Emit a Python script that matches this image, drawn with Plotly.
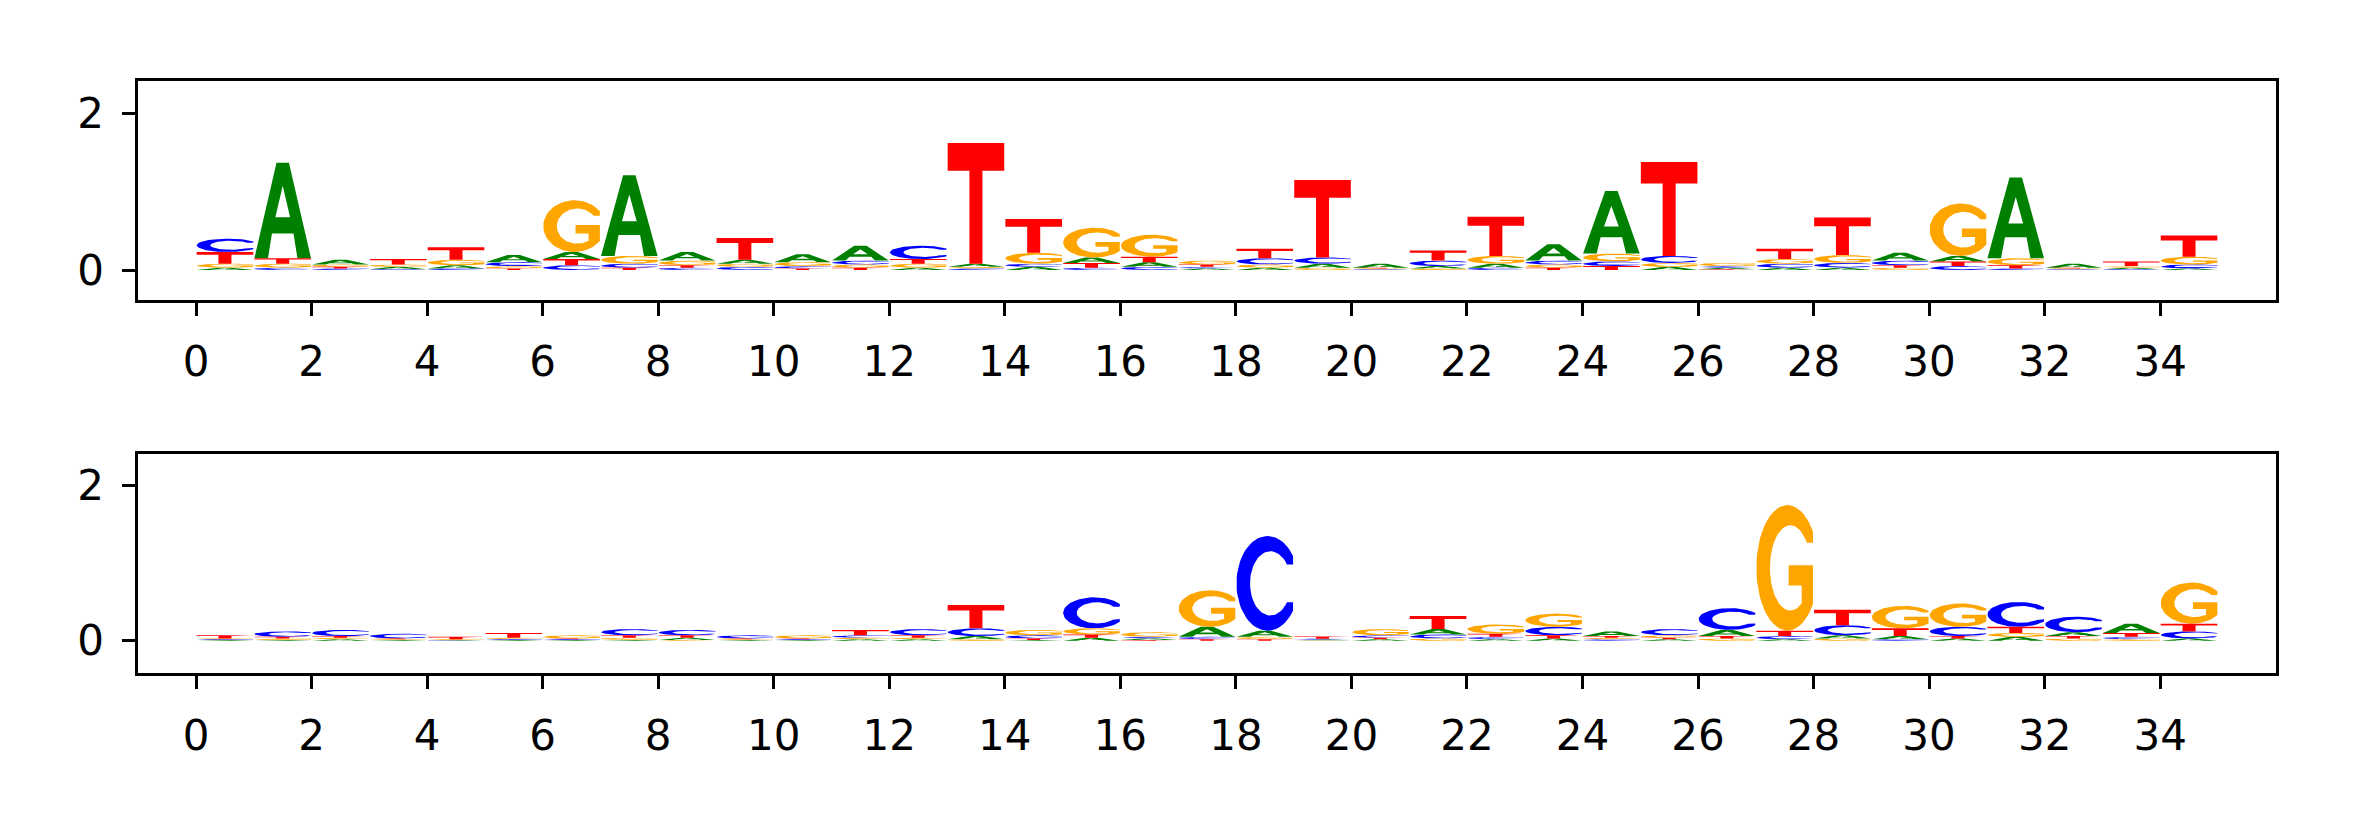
import numpy as np
import plotly.graph_objects as go

# sequence positions (35 columns) and letter heights (bits)
positions = list(range(35))

top_A = [0.03, 1.22, 0.06, 0.03, 0.04, 0.09, 0.09, 1.03, 0.11, 0.05, 0.10, 0.19, 0.03, 0.04, 0.04, 0.07, 0.06, 0.02,
         0.03, 0.05, 0.05, 0.03, 0.05, 0.21, 0.80, 0.04, 0.02, 0.03, 0.03, 0.10, 0.07, 1.03, 0.05, 0.02, 0.02]
top_C = [0.17, 0.03, 0.02, 0.01, 0.02, 0.05, 0.06, 0.05, 0.03, 0.04, 0.03, 0.05, 0.17, 0.02, 0.04, 0.03, 0.04, 0.02,
         0.08, 0.08, 0.01, 0.07, 0.03, 0.05, 0.06, 0.09, 0.02, 0.05, 0.06, 0.06, 0.05, 0.02, 0.01, 0.01, 0.05]
top_G = [0.05, 0.05, 0.03, 0.03, 0.07, 0.03, 0.66, 0.10, 0.06, 0.04, 0.05, 0.04, 0.05, 0.02, 0.14, 0.38, 0.28, 0.05,
         0.04, 0.03, 0.01, 0.02, 0.10, 0.04, 0.10, 0.05, 0.04, 0.06, 0.10, 0.03, 0.67, 0.09, 0.01, 0.02, 0.10]
top_T = [0.15, 0.07, 0.02, 0.07, 0.16, 0.02, 0.08, 0.03, 0.03, 0.28, 0.02, 0.03, 0.06, 1.54, 0.43, 0.06, 0.07, 0.03,
         0.12, 0.99, 0.01, 0.13, 0.50, 0.03, 0.05, 1.20, 0.01, 0.13, 0.48, 0.03, 0.06, 0.04, 0.01, 0.06, 0.27]

bot_A = [0.01, 0.01, 0.02, 0.01, 0.005, 0.01, 0.01, 0.01, 0.03, 0.01, 0.01, 0.02, 0.02, 0.04, 0.01, 0.04, 0.02, 0.13,
         0.08, 0.01, 0.02, 0.07, 0.02, 0.03, 0.06, 0.02, 0.08, 0.02, 0.04, 0.04, 0.03, 0.05, 0.05, 0.12, 0.03]
bot_C = [0.01, 0.07, 0.08, 0.06, 0.005, 0.01, 0.01, 0.08, 0.07, 0.04, 0.01, 0.03, 0.08, 0.10, 0.04, 0.40, 0.02, 0.03,
         1.22, 0.01, 0.03, 0.05, 0.03, 0.11, 0.02, 0.08, 0.28, 0.04, 0.13, 0.02, 0.12, 0.32, 0.20, 0.03, 0.09]
bot_G = [0.01, 0.02, 0.02, 0.01, 0.01, 0.02, 0.04, 0.03, 0.01, 0.01, 0.04, 0.02, 0.02, 0.02, 0.07, 0.08, 0.06, 0.47,
         0.03, 0.005, 0.08, 0.03, 0.12, 0.17, 0.02, 0.03, 0.03, 1.62, 0.03, 0.29, 0.30, 0.05, 0.03, 0.02, 0.53]
bot_T = [0.04, 0.02, 0.02, 0.01, 0.03, 0.06, 0.01, 0.03, 0.03, 0.01, 0.01, 0.07, 0.03, 0.30, 0.02, 0.04, 0.01, 0.02,
         0.02, 0.03, 0.02, 0.17, 0.04, 0.04, 0.02, 0.02, 0.03, 0.07, 0.20, 0.10, 0.03, 0.08, 0.03, 0.05, 0.10]

x_ticks = list(range(0, 35, 2))
y_ticks = [0, 2]

COLORS = {"A": "green", "C": "blue", "G": "orange", "T": "red"}


# --- glyph outlines in a unit box ---------------------------------------------------
def _arc(cx, cy, rx, ry, a0, a1, n=60):
    t = np.radians(np.linspace(a0, a1, n))
    return list(zip(cx + rx * np.cos(t), cy + ry * np.sin(t)))


def glyph(letter):
    if letter == "T":
        return [(0, 1), (1, 1), (1, 0.77), (0.615, 0.77), (0.615, 0), (0.385, 0), (0.385, 0.77), (0, 0.77)]
    if letter == "A":
        return [(0, 0), (0.39, 1), (0.61, 1), (1, 0), (0.76, 0), (0.69, 0.26), (0.5, 0.26), (0.5, 0.43),
                (0.63, 0.43), (0.5, 0.76), (0.37, 0.43), (0.5, 0.43), (0.5, 0.26), (0.31, 0.26), (0.24, 0)]
    outer = _arc(0.55, 0.5, 0.55, 0.5, 35, 325)
    if letter == "C":
        inner = _arc(0.6, 0.5, 0.36, 0.34, 324, 36)
        return outer + [(1, 0.30)] + inner + [(1, 0.70)]
    # G
    inner = _arc(0.6, 0.5, 0.36, 0.34, 304, 36)
    return outer + [(1, 0.52), (0.57, 0.52), (0.57, 0.36), (0.80, 0.36)] + inner + [(1, 0.70)]


GLYPHS = {k: glyph(k) for k in "ACGT"}


def logo_traces(heights, xa, ya, width=0.98):
    xs = {k: [] for k in "ACGT"}
    ys = {k: [] for k in "ACGT"}
    for i, pos in enumerate(positions):
        floor = 0.0
        for letter in sorted("ACGT", key=lambda k: heights[k][i]):
            h = heights[letter][i]
            if h <= 0:
                continue
            for gx, gy in GLYPHS[letter]:
                xs[letter].append(pos + (1 - width) / 2 + gx * width)
                ys[letter].append(floor + gy * h)
            xs[letter].append(None)
            ys[letter].append(None)
            floor += h
    return [go.Scatter(x=xs[k], y=ys[k], xaxis=xa, yaxis=ya, mode="lines", fill="toself",
                       fillcolor=COLORS[k], line=dict(width=0, color=COLORS[k]),
                       hoverinfo="skip", showlegend=False) for k in "ACGT"]


fig = go.Figure()
for tr in logo_traces({"A": top_A, "C": top_C, "G": top_G, "T": top_T}, "x", "y"):
    fig.add_trace(tr)
for tr in logo_traces({"A": bot_A, "C": bot_C, "G": bot_G, "T": bot_T}, "x2", "y2"):
    fig.add_trace(tr)

axis_style = dict(showline=True, mirror=True, linecolor="black", linewidth=3, ticks="outside",
                  ticklen=13, tickwidth=3, tickcolor="black", showgrid=False, zeroline=False,
                  tickfont=dict(family="DejaVu Sans", size=42, color="black"))
xdom = [138.3 / 2362, 2275.7 / 2362]
fig.update_layout(
    width=2362, height=826, margin=dict(l=0, r=0, t=0, b=0),
    paper_bgcolor="white", plot_bgcolor="white",
    xaxis=dict(domain=xdom, range=[-1, 36], tickvals=x_ticks, anchor="y", ticklabelstandoff=10, **axis_style),
    yaxis=dict(domain=[1 - 300 / 826, 1 - 81 / 826], range=[-0.383, 2.413], tickvals=y_ticks, anchor="x",
               ticklabelstandoff=10, **axis_style),
    xaxis2=dict(domain=xdom, range=[-1, 36], tickvals=x_ticks, anchor="y2", ticklabelstandoff=10, **axis_style),
    yaxis2=dict(domain=[1 - 673.3 / 826, 1 - 454.3 / 826], range=[-0.42, 2.405], tickvals=y_ticks, anchor="x2",
                ticklabelstandoff=10, **axis_style),
)

# the page body has a default 8px margin; drop it so the figure sits at the window origin
fig.write_html("out.html", config={"displayModeBar": False},
               post_script="document.body.style.margin = '0';")
